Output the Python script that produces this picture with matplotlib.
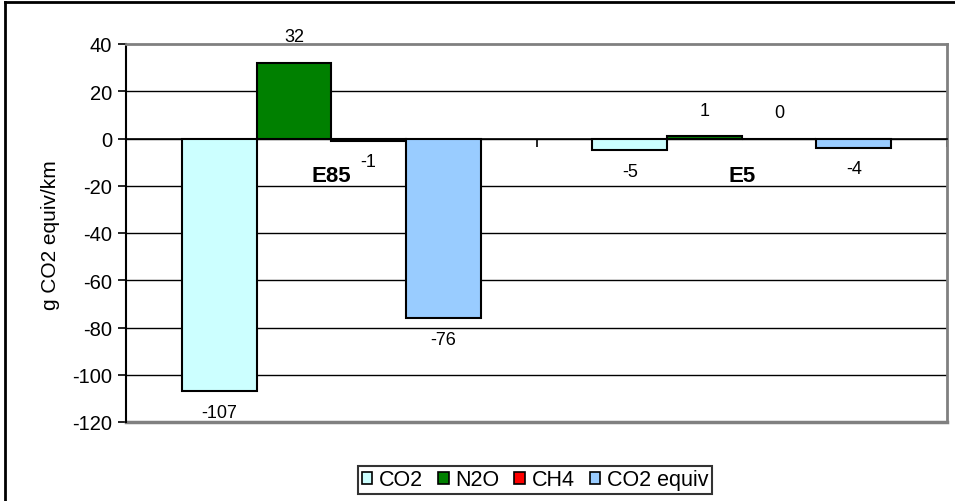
import matplotlib
matplotlib.use("Agg")
import matplotlib.pyplot as plt
from matplotlib.patches import Patch
from matplotlib.lines import Line2D
import numpy as np

plt.rcParams['font.family'] = ['Liberation Sans', 'DejaVu Sans']

categories = ["E85", "E5"]
series = ["CO2", "N2O", "CH4", "CO2 equiv"]
values = {
    "CO2": [-107, -5],
    "N2O": [32, 1],
    "CH4": [-1, 0],
    "CO2 equiv": [-76, -4],
}
colors = {"CO2": "#CCFFFF", "N2O": "#008000", "CH4": "#FF0000", "CO2 equiv": "#99CCFF"}
yticks = list(range(-120, 41, 20))

W, H = 955, 502
fig = plt.figure(figsize=(W / 100, H / 100), dpi=100)
# outer chart border (left/top visible)
fig.add_artist(Line2D([5 / W, 5 / W], [0, 1 - 3 / H], color="black", lw=2, transform=fig.transFigure))
fig.add_artist(Line2D([5 / W, 1], [1 - 3 / H, 1 - 3 / H], color="black", lw=2, transform=fig.transFigure))

left, right, top, bottom = 126, 947, 45, 423
ax = fig.add_axes([left / W, 1 - bottom / H, (right - left) / W, (bottom - top) / H])

x = np.arange(len(categories))
bw = 1 / 5.5
for i, s in enumerate(series):
    pos = x + (i - 1.5) * bw
    ax.bar(pos, values[s], width=bw, color=colors[s], edgecolor="black", linewidth=1.5, zorder=3, label=s)
    for px, v in zip(pos, values[s]):
        off = 26 if v >= 0 else -21
        ax.annotate(f"{v}", (px, v), xytext=(0, off), textcoords="offset pixels",
                    ha="center", va="center", fontsize=13, zorder=4)

ax.set_xlim(-0.5, 1.5)
ax.set_ylim(-120, 40)
ax.set_yticks(yticks)
ax.set_yticklabels([str(t) for t in yticks], fontsize=14.5)
ax.tick_params(axis="y", direction="out", length=6, width=1.2, pad=4)

for t in yticks:
    if -120 < t < 40:
        ax.axhline(t, color="black", lw=1, zorder=1)

ax.spines["left"].set_color("black")
ax.spines["left"].set_linewidth(1.5)
for sp in ["top", "right"]:
    ax.spines[sp].set_color("#808080")
    ax.spines[sp].set_linewidth(2)
ax.spines["bottom"].set_position(("data", 0))
ax.spines["bottom"].set_color("black")
ax.spines["bottom"].set_linewidth(1.2)
ax.axhline(-120, color="#808080", lw=2.5, zorder=2, clip_on=False)

ax.set_xticks(x)
ax.set_xticklabels(categories, fontsize=16, fontweight="bold")
ax.set_xticks([-0.5, 0.5, 1.5], minor=True)
ax.tick_params(axis="x", which="major", length=0, pad=19)
ax.tick_params(axis="x", which="minor", direction="out", length=6, width=1.2)

fig.text(50 / W, 1 - 235 / H, "g CO2 equiv/km", rotation=90, ha="center", va="center", fontsize=15)

handles = [Patch(facecolor=colors[s], edgecolor="black", linewidth=1.2) for s in series]
leg = fig.legend(handles, series, loc="center", bbox_to_anchor=(535 / W, 1 - 481 / H), ncol=4,
                 fontsize=15.5, frameon=True, fancybox=False, edgecolor="black",
                 handlelength=0.5, handleheight=0.5, handletextpad=0.3, columnspacing=0.7,
                 borderpad=0.15, borderaxespad=0)
leg.get_frame().set_linewidth(1.5)

fig.savefig("out.png", dpi=100)
